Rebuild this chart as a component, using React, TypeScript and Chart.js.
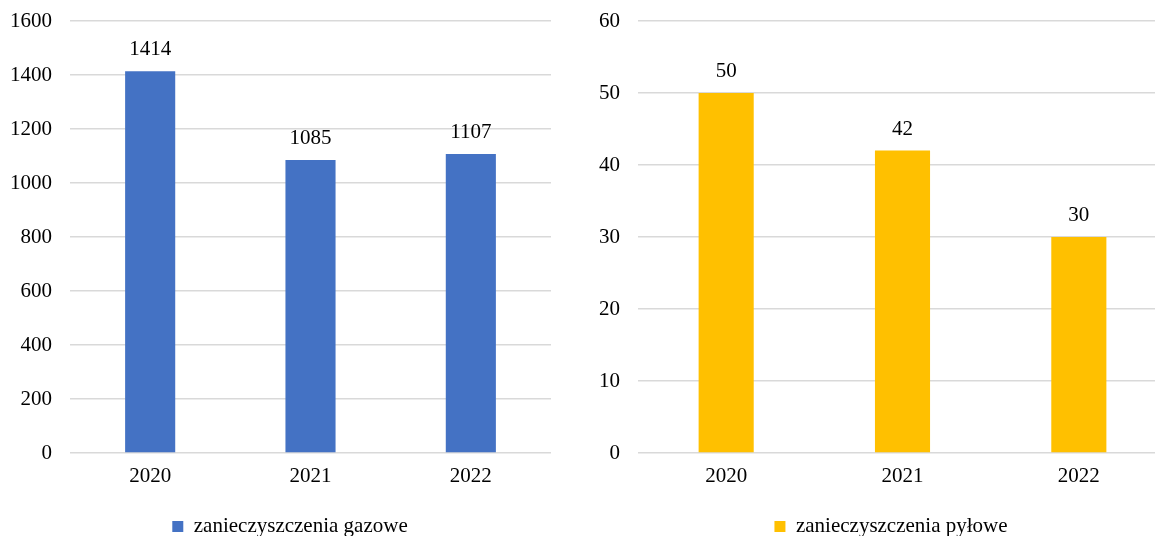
import React, { useEffect, useRef } from "react";
import { Chart, registerables } from "chart.js";

Chart.register(...registerables);

const categories = ["2020", "2021", "2022"];
const gasValues = [1414, 1085, 1107];
const dustValues = [50, 42, 30];
const gasLabel = "zanieczyszczenia gazowe";
const dustLabel = "zanieczyszczenia pyłowe";
const gasTicks = { min: 0, max: 1600, step: 200 };
const dustTicks = { min: 0, max: 60, step: 10 };

const FONT = "'Liberation Serif', 'Times New Roman', serif";
const FS = 21;

const valueLabels = {
  id: "valueLabels",
  afterDatasetsDraw(chart: any) {
    const ctx = chart.ctx;
    ctx.save();
    ctx.font = `${FS}px ${FONT}`;
    ctx.fillStyle = "#000000";
    ctx.textAlign = "center";
    ctx.textBaseline = "alphabetic";
    chart.data.datasets.forEach((ds: any, i: number) => {
      const meta = chart.getDatasetMeta(i);
      meta.data.forEach((el: any, j: number) => {
        ctx.fillText(String(ds.data[j]), el.x, el.y - 16);
      });
    });
    ctx.restore();
  },
};

function BarChart(props: {
  values: number[];
  label: string;
  color: string;
  ticks: { min: number; max: number; step: number };
  yWidth: number;
  rightPad: number;
  width: number;
}) {
  const ref = useRef<HTMLCanvasElement>(null);
  useEffect(() => {
    if (!ref.current) return;
    const chart = new Chart(ref.current, {
      type: "bar",
      data: {
        labels: categories,
        datasets: [
          {
            label: props.label,
            data: props.values,
            backgroundColor: props.color,
            borderWidth: 0,
            categoryPercentage: 1,
            barPercentage: 0.3125,
          },
        ],
      },
      options: {
        animation: false,
        responsive: false,
        devicePixelRatio: 1,
        layout: { padding: { top: 21, right: 0, left: 0, bottom: -11 } },
        plugins: {
          tooltip: { enabled: false },
          legend: {
            display: true,
            position: "bottom",
            labels: {
              boxWidth: 11,
              boxHeight: 11,
              padding: 0,
              color: "#000000",
              font: { family: FONT, size: FS, lineHeight: 1 },
            },
          },
        },
        scales: {
          x: {
            grid: { display: false, drawTicks: false },
            border: { display: false },
            ticks: {
              color: "#000000",
              font: { family: FONT, size: FS },
              padding: 11,
            },
            afterFit(scale: any) {
              scale.height = 63;
            },
          },
          y: {
            min: props.ticks.min,
            max: props.ticks.max,
            grid: { color: "#D9D9D9", lineWidth: 1.5, drawTicks: false },
            border: { display: false },
            ticks: {
              stepSize: props.ticks.step,
              color: "#000000",
              font: { family: FONT, size: FS },
              padding: 18,
              callback: (v: any) => String(v),
            },
            afterFit(scale: any) {
              scale.width = props.yWidth;
              scale.paddingTop = 0;
              scale.paddingBottom = 0;
            },
          },
          spacer: {
            type: "linear",
            position: "right",
            display: true,
            grid: { display: false, drawTicks: false },
            border: { display: false },
            ticks: { display: false },
            afterFit(scale: any) {
              scale.width = props.rightPad;
              scale.paddingTop = 0;
              scale.paddingBottom = 0;
            },
          },
        },
      },
      plugins: [valueLabels],
    } as any);
    return () => chart.destroy();
  }, []);
  return <canvas ref={ref} width={props.width} height={536} />;
}

export default function App() {
  return (
    <div
      style={{
        position: "fixed",
        left: 0,
        top: 0,
        width: 1155,
        height: 536,
        overflow: "hidden",
        background: "#ffffff",
      }}
    >
      <div style={{ position: "absolute", left: 0, top: 0 }}>
        <BarChart
          values={gasValues}
          label={gasLabel}
          color="#4472C4"
          ticks={gasTicks}
          yWidth={70}
          rightPad={29}
          width={580}
        />
      </div>
      <div style={{ position: "absolute", left: 580, top: 0 }}>
        <BarChart
          values={dustValues}
          label={dustLabel}
          color="#FFC000"
          ticks={dustTicks}
          yWidth={58}
          rightPad={35}
          width={622}
        />
      </div>
    </div>
  );
}
